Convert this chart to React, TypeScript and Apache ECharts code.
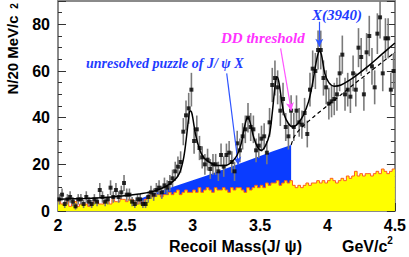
import React, { useEffect, useRef } from "react";
import * as echarts from "echarts";

// Binning of the J/psi recoil mass histogram (GeV/c^2)
const BIN_START = 2.0;
const BIN_WIDTH = 0.02;
const X_MIN = 2.0;
const X_MAX = 4.5;
const Y_MIN = 0;
const Y_MAX = 90;

// Data points: events per 20 MeV/c^2 bin (125 bins, 2.00 - 4.50)
const counts = [
  5, 7, 3, 5, 6, 4, 2, 5, 5, 3,
  6, 4, 3, 5, 4, 9, 6, 4, 5, 10,
  6, 9, 6, 8, 12, 7, 7, 4, 3, 5,
  5, 3, 3, 6, 8, 7, 9, 10, 8, 11,
  10, 12, 14, 17, 19,
  21, 34, 41, 44, 52, 30, 35, 27, 23, 20,
  22, 18, 20, 20, 17, 24, 19, 24, 25, 21,
  17, 29, 26, 32, 35, 40, 36, 35, 26, 28,
  31, 32, 25, 38, 54, 57, 53, 43, 48, 36,
  32, 43, 36, 43, 38, 37, 42, 33, 52, 61,
  60, 69, 69, 57, 53, 46, 47, 48, 50, 59,
  67, 50, 52, 49, 59, 52, 70, 66, 50, 68,
  75, 62, 53, 76, 83, 59, 74, 74, 52, 60,
];

// Sideband (yellow) histogram, same binning
const sideband = [
  4, 3, 3, 4, 2, 3, 4, 2, 3, 3,
  3, 2, 3, 4, 4, 3, 3, 4, 4, 3,
  5, 4, 4, 5, 5, 4, 5, 5, 4, 3,
  4, 3, 5, 6, 7, 6, 7, 7, 6, 7,
  7, 8, 7, 8, 9, 7, 8, 9, 8, 8,
  9, 8, 10, 8, 9, 10, 9, 8, 10, 9,
  9, 10, 9, 8, 10, 9, 10, 10, 9, 8,
  10, 9, 10, 11, 10, 11, 10, 12, 11, 12,
  12, 13, 11, 12, 13, 12, 13,
  11, 10, 11, 10, 11, 12, 11, 12,
  12, 13, 12, 13, 12, 13, 14, 13, 12, 13,
  14, 13, 15, 14, 15, 17, 15, 16, 15, 16,
  16, 15, 16, 17, 16, 18, 17, 16, 17, 18,
];

// Blue band: unexplained background below the DD threshold (x, y)
const blueBand = [
  [2.6, 5], [2.7, 7.3], [2.8, 9.3], [2.9, 11.2], [3.0, 13.2], [3.1, 15.1],
  [3.2, 17.2], [3.3, 19.3], [3.4, 21.4], [3.5, 23.6], [3.6, 25.7], [3.73, 28.3],
];

// Total fit curve (x, y)
const fitCurve = [
  [2.0, 5], [2.2, 5.4], [2.4, 6.0], [2.6, 7.3], [2.7, 8.3], [2.8, 10.5],
  [2.86, 13], [2.9, 16], [2.93, 22], [2.95, 30], [2.97, 40], [2.98, 43],
  [2.99, 42.5], [3.0, 40], [3.02, 33], [3.05, 26.5], [3.08, 23], [3.12, 21],
  [3.18, 19.5], [3.24, 19.5], [3.29, 21], [3.33, 24], [3.36, 29], [3.38, 35],
  [3.4, 39.5], [3.41, 40], [3.43, 37], [3.45, 32], [3.48, 27.5], [3.51, 26],
  [3.54, 28], [3.57, 33], [3.59, 42], [3.61, 53], [3.625, 57.5], [3.64, 55],
  [3.66, 47], [3.68, 41], [3.71, 37.5], [3.74, 36], [3.78, 37.5], [3.82, 41],
  [3.86, 47], [3.89, 55], [3.92, 65], [3.94, 68.5], [3.955, 67], [3.98, 59],
  [4.01, 55], [4.05, 53.5], [4.1, 54], [4.2, 57.5], [4.3, 62], [4.4, 67], [4.5, 72],
];

// Background above the DD threshold (dashed)
const bgAboveThreshold = [
  [3.73, 28.3], [3.75, 31.5], [3.78, 34], [3.82, 36.5], [3.86, 38.5], [3.9, 40.5],
  [4.0, 45.2], [4.1, 49.8], [4.2, 54.5], [4.3, 59], [4.4, 63.5], [4.5, 68],
];

// Annotation arrows: [from, to] in data coordinates
const arrowPuzzle = [[3.252, 59.0], [3.338, 19.7]];
const arrowThreshold = [[3.652, 69.7], [3.731, 43.0]];
const arrowX3940 = [[3.939, 81.1], [3.939, 70.4]];

const SANS = "'Liberation Sans', Arial, Helvetica, sans-serif";
const SERIF = "'Liberation Serif', 'Times New Roman', serif";
const AXIS_GRAY = "#8a8a8a";
const BLUE = "#1f3cff";
const MAGENTA = "#ff33ff";

export default function App() {
  const ref = useRef<HTMLDivElement>(null);

  useEffect(() => {
    if (!ref.current) return;
    const chart = echarts.init(ref.current, undefined, { renderer: "svg" });

    const points = counts.map((c, i) => [BIN_START + BIN_WIDTH * (i + 0.5), c]);
    const errors = counts.map((c, i) => [BIN_START + BIN_WIDTH * (i + 0.5), c, Math.sqrt(c)]);
    const sidebandSteps: number[][] = sideband.map((v, i) => [BIN_START + BIN_WIDTH * i, v]);
    sidebandSteps.push([X_MAX, sideband[sideband.length - 1]]);

    const arrowItem = (a: number[][], color: string) => [
      { coord: a[0], lineStyle: { color, width: 1.2, type: "solid" } },
      { coord: a[1] },
    ];

    const yAxisBase = {
      type: "value",
      min: Y_MIN,
      max: Y_MAX,
      splitLine: { show: false },
      axisLabel: { show: false },
    };

    const option: any = {
      animation: false,
      backgroundColor: "#ffffff",
      grid: { left: 58, right: 12, top: 1, bottom: 46, containLabel: false },
      xAxis: [
        {
          type: "value",
          min: X_MIN,
          max: X_MAX,
          interval: 0.5,
          position: "bottom",
          axisLine: { show: true, onZero: false, lineStyle: { color: AXIS_GRAY, width: 2 } },
          axisTick: { show: true, inside: true, length: 8, lineStyle: { color: "#333", width: 1 } },
          minorTick: { show: true, splitNumber: 5, length: 4, lineStyle: { color: "#333", width: 1 } },
          axisLabel: {
            margin: 6,
            fontFamily: SANS,
            fontWeight: "bold",
            fontSize: 16,
            color: "#000",
          },
          splitLine: { show: false },
          minorSplitLine: { show: false },
        },
        {
          type: "value",
          min: X_MIN,
          max: X_MAX,
          position: "top",
          axisLine: { show: true, onZero: false, lineStyle: { color: AXIS_GRAY, width: 2 } },
          axisTick: { show: false },
          axisLabel: { show: false },
          splitLine: { show: false },
        },
      ],
      yAxis: [
        {
          ...yAxisBase,
          interval: 20,
          position: "left",
          axisLine: { show: true, onZero: false, lineStyle: { color: AXIS_GRAY, width: 2 } },
          axisTick: { show: true, inside: true, length: 8, lineStyle: { color: "#333", width: 1 } },
          axisLabel: {
            show: true,
            margin: 8,
            fontFamily: SANS,
            fontWeight: "bold",
            fontSize: 16,
            color: "#000",
            formatter: (v: number) => (v % 20 === 0 ? String(v) : ""),
          },
        },
        {
          ...yAxisBase,
          interval: 5,
          position: "left",
          axisLine: { show: false },
          axisTick: { show: true, inside: true, length: 4, lineStyle: { color: "#333", width: 1 } },
        },
        {
          ...yAxisBase,
          interval: 20,
          position: "right",
          axisLine: { show: true, onZero: false, lineStyle: { color: AXIS_GRAY, width: 2 } },
          axisTick: { show: true, inside: true, length: 8, lineStyle: { color: "#333", width: 1 } },
        },
        {
          ...yAxisBase,
          interval: 5,
          position: "right",
          axisLine: { show: false },
          axisTick: { show: true, inside: true, length: 4, lineStyle: { color: "#333", width: 1 } },
        },
      ],
      series: [
        {
          name: "unresolved",
          type: "line",
          data: blueBand,
          showSymbol: false,
          symbol: "none",
          lineStyle: { width: 0 },
          areaStyle: { color: "#0a3cff", opacity: 1, origin: "start" },
          z: 1,
        },
        {
          name: "sideband",
          type: "line",
          step: "end",
          data: sidebandSteps,
          symbol: "none",
          lineStyle: { color: "#ff5a1e", width: 1 },
          areaStyle: { color: "#ffff00", opacity: 1, origin: "start" },
          z: 2,
        },
        {
          name: "errors",
          type: "custom",
          data: errors,
          encode: { x: 0, y: 1 },
          z: 3,
          renderItem: (_params: any, api: any) => {
            const x = api.value(0);
            const v = api.value(1);
            const e = api.value(2);
            const top = api.coord([x, Math.min(Y_MAX, v + e)]);
            const bot = api.coord([x, Math.max(Y_MIN, v - e)]);
            return {
              type: "line",
              shape: { x1: top[0], y1: top[1], x2: bot[0], y2: bot[1] },
              style: { stroke: "#7a7a7a", lineWidth: 1.6 },
            };
          },
        },
        {
          name: "data",
          type: "scatter",
          data: points,
          symbol: "rect",
          symbolSize: 4,
          itemStyle: { color: "#000" },
          z: 4,
        },
        {
          name: "fit",
          type: "line",
          data: fitCurve,
          smooth: 0.35,
          symbol: "none",
          lineStyle: { color: "#000", width: 1.5 },
          z: 5,
        },
        {
          name: "background",
          type: "line",
          data: bgAboveThreshold,
          smooth: 0.3,
          symbol: "none",
          lineStyle: { color: "#000", width: 1.2, type: [4, 3] },
          z: 5,
          markLine: {
            silent: true,
            symbol: ["none", "arrow"],
            symbolSize: [6, 8],
            label: { show: false },
            animation: false,
            data: [
              arrowItem(arrowPuzzle, "#2f55ff"),
              arrowItem(arrowThreshold, "#ff55ff"),
              arrowItem(arrowX3940, "#2f55ff"),
            ],
          },
        },
      ],
      graphic: [
        {
          type: "text",
          x: 12,
          y: 55,
          rotation: Math.PI / 2,
          style: {
            text: "N/20 MeV/c",
            fontFamily: SANS,
            fontWeight: "bold",
            fontSize: 15,
            fill: "#000",
            align: "center",
            verticalAlign: "middle",
          },
        },
        {
          type: "text",
          x: 14,
          y: 6,
          rotation: Math.PI / 2,
          style: {
            text: "2",
            fontFamily: SANS,
            fontWeight: "bold",
            fontSize: 10,
            fill: "#000",
            align: "center",
            verticalAlign: "middle",
          },
        },
        {
          type: "text",
          x: 169,
          y: 246,
          style: {
            text: "Recoil Mass(J/ \u03c8)",
            fontFamily: SANS,
            fontWeight: "bold",
            fontSize: 16,
            fill: "#000",
            align: "left",
            verticalAlign: "middle",
          },
        },
        {
          type: "text",
          x: 342,
          y: 246,
          style: {
            text: "GeV/c",
            fontFamily: SANS,
            fontWeight: "bold",
            fontSize: 16,
            fill: "#000",
            align: "left",
            verticalAlign: "middle",
          },
        },
        {
          type: "text",
          x: 390,
          y: 240,
          style: {
            text: "2",
            fontFamily: SANS,
            fontWeight: "bold",
            fontSize: 10,
            fill: "#000",
            align: "center",
            verticalAlign: "middle",
          },
        },
        {
          type: "text",
          x: 86,
          y: 63,
          style: {
            text: "unresolved puzzle of J/ \u03c8 X",
            fontFamily: SERIF,
            fontWeight: "bold",
            fontStyle: "italic",
            fontSize: 14,
            fill: BLUE,
            align: "left",
            verticalAlign: "middle",
          },
        },
        {
          type: "text",
          x: 221,
          y: 38,
          style: {
            text: "DD threshold",
            fontFamily: SERIF,
            fontWeight: "bold",
            fontStyle: "italic",
            fontSize: 15,
            fill: MAGENTA,
            align: "left",
            verticalAlign: "middle",
          },
        },
        {
          type: "text",
          x: 312,
          y: 15,
          style: {
            text: "X(3940)",
            fontFamily: SERIF,
            fontWeight: "bold",
            fontStyle: "italic",
            fontSize: 15,
            fill: BLUE,
            align: "left",
            verticalAlign: "middle",
          },
        },
      ],
    };

    chart.setOption(option);
    return () => {
      chart.dispose();
    };
  }, []);

  return (
    <div
      ref={ref}
      style={{ position: "fixed", left: 0, top: 0, width: 409, height: 257, background: "#fff" }}
    />
  );
}
